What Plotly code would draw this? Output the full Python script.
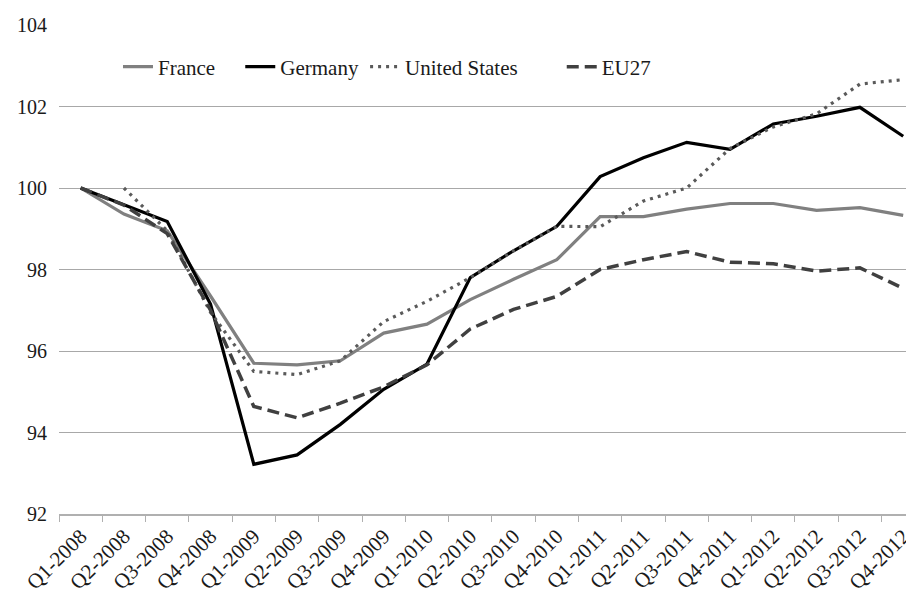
import plotly.graph_objects as go

quarters = [
    "Q1-2008", "Q2-2008", "Q3-2008", "Q4-2008",
    "Q1-2009", "Q2-2009", "Q3-2009", "Q4-2009",
    "Q1-2010", "Q2-2010", "Q3-2010", "Q4-2010",
    "Q1-2011", "Q2-2011", "Q3-2011", "Q4-2011",
    "Q1-2012", "Q2-2012", "Q3-2012", "Q4-2012",
]

france = [100.0, 99.36, 98.95, 97.35, 95.70, 95.66, 95.76, 96.44, 96.66, 97.26,
          97.76, 98.24, 99.30, 99.30, 99.48, 99.62, 99.62, 99.45, 99.52, 99.33]
germany = [100.0, 99.60, 99.18, 97.15, 93.22, 93.45, 94.20, 95.06, 95.68, 97.80,
           98.46, 99.06, 100.28, 100.74, 101.12, 100.95, 101.57, 101.76, 101.98, 101.27]
united_states = [None, 100.0, 98.95, 96.95, 95.50, 95.42, 95.76, 96.72, 97.22, 97.80,
                 98.46, 99.06, 99.05, 99.68, 100.0, 100.97, 101.50, 101.82, 102.55, 102.66]
eu27 = [100.0, 99.58, 98.88, 97.00, 94.64, 94.36, 94.72, 95.12, 95.66, 96.54,
        97.02, 97.34, 98.00, 98.24, 98.44, 98.18, 98.14, 97.96, 98.04, 97.54]

y_ticks = [92, 94, 96, 98, 100, 102, 104]

FONT = "Liberation Serif, Times New Roman, serif"

# (name, values, line style, legend id, legend x in paper units)
series = [
    ("France", france, dict(color="#808080", width=3.2), "legend", 0.069),
    ("Germany", germany, dict(color="#000000", width=3.2), "legend2", 0.212),
    ("United States", united_states, dict(color="#5a5a5a", width=3.2, dash="3px,5px"), "legend3", 0.358),
    ("EU27", eu27, dict(color="#404040", width=3.5, dash="12px,6px"), "legend4", 0.588),
]

fig = go.Figure()
legends = {}
for name, vals, line, leg, lx in series:
    fig.add_trace(go.Scatter(x=quarters, y=vals, name=name, mode="lines",
                             line=line, legend=leg, showlegend=True))
    # one legend box per series so each entry sits where the original has it
    legends[leg] = dict(orientation="h", x=lx, y=0.914, xanchor="left", yanchor="middle",
                        font=dict(family=FONT, size=21, color="#1a1a1a"),
                        bgcolor="rgba(0,0,0,0)", itemwidth=30)

# page body has an 8px margin, so the figure is a bit smaller than the window
fig.update_layout(
    width=906, height=588, showlegend=True,
    paper_bgcolor="white", plot_bgcolor="white",
    margin=dict(l=51, r=0, t=17, b=82, autoexpand=False),
    font=dict(family=FONT, size=20, color="#1a1a1a"),
    **legends,
)
fig.update_xaxes(
    type="category", range=[-0.5, 19.25], tickson="boundaries", automargin=False,
    ticks="outside", ticklen=6, tickcolor="#b0b0b0",
    showline=True, linecolor="#b0b0b0", linewidth=1.5,
    showgrid=False, tickangle=-45, tickfont=dict(family=FONT, size=21),
)
fig.update_yaxes(
    range=[92, 104], tickvals=y_ticks, showgrid=True, gridcolor="#a8a8a8",
    gridwidth=1, zeroline=False, showline=False, ticks="", automargin=False,
    ticklabelstandoff=11, tickfont=dict(family=FONT, size=20),
)

fig.write_html("out.html")
